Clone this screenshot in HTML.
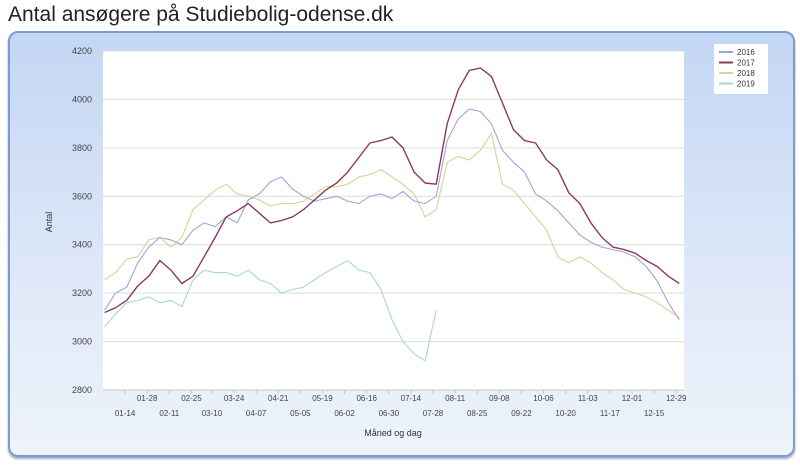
<!DOCTYPE html>
<html><head><meta charset="utf-8"><style>
body{margin:0;width:800px;height:468px;background:#fff;font-family:"Liberation Sans",sans-serif;overflow:hidden}
#title{position:absolute;left:8px;top:3px;font-size:21px;color:#222}
#panel{position:absolute;left:8px;top:31px;width:783px;height:422px;border:2px solid #7d9bcb;border-radius:10px;background:linear-gradient(#c3d6f4,#e4ecf9 70%,#eef3fb);box-shadow:0 2px 2px #9ab}
svg{position:absolute;left:0;top:0}
</style></head><body>
<div id="title">Antal ansøgere på Studiebolig-odense.dk</div>
<div id="panel"></div>
<svg id="chart" width="800" height="468"></svg>
<script>
const seriesNames=["2016","2017","2018","2019"];
const colors=["#a2a2e0","#8c3a5c","#d6d29a","#a6d8d0"];
const v2016=[3130,3200,3225,3325,3390,3430,3420,3400,3460,3490,3475,3515,3490,3585,3610,3660,3680,3630,3600,3580,3590,3600,3580,3570,3600,3610,3590,3620,3580,3570,3600,3830,3920,3960,3950,3900,3790,3740,3700,3610,3580,3540,3490,3440,3410,3390,3380,3370,3350,3310,3250,3160,3090];
const v2017=[3120,3140,3170,3230,3270,3335,3295,3240,3270,3350,3430,3515,3540,3570,3530,3490,3500,3515,3545,3585,3625,3655,3700,3760,3820,3830,3845,3800,3700,3655,3650,3900,4040,4120,4130,4095,3985,3875,3830,3820,3750,3710,3615,3570,3490,3430,3390,3380,3365,3335,3310,3270,3240];
const v2018=[3255,3285,3340,3350,3420,3430,3390,3430,3545,3585,3625,3650,3610,3600,3585,3560,3570,3570,3580,3610,3640,3640,3650,3680,3690,3710,3680,3650,3610,3515,3545,3740,3765,3750,3790,3860,3650,3625,3570,3515,3460,3350,3325,3350,3325,3285,3255,3215,3200,3185,3160,3130,3100];
const v2019=[3060,3115,3160,3170,3185,3160,3170,3145,3255,3295,3285,3285,3270,3295,3255,3240,3200,3215,3225,3255,3285,3310,3335,3295,3285,3215,3090,3000,2950,2920,3130];
const allSeries=[v2016,v2017,v2018,v2019];
const yTicks=[2800,3000,3200,3400,3600,3800,4000,4200];
const xLabels=["01-14","01-28","02-11","02-25","03-10","03-24","04-07","04-21","05-05","05-19","06-02","06-16","06-30","07-14","07-28","08-11","08-25","09-08","09-22","10-06","10-20","11-03","11-17","12-01","12-15","12-29"];
const xLabelDays=[14,28,42,56,69,83,97,111,125,139,153,167,181,195,209,223,237,251,265,279,293,307,321,335,349,363];

const L=103,R=684,T=51,B=390;
const xS=d=>L+d*1.579;
const yS=v=>T+(4200-v)/1400*(B-T);
const NS="http://www.w3.org/2000/svg";
const svg=document.getElementById('chart');
function mk(t,a){const e=document.createElementNS(NS,t);for(const k in a)e.setAttribute(k,a[k]);svg.appendChild(e);return e;}

const bg=mk('rect',{x:L,y:T,width:R-L,height:B-T,fill:'#fff'});


yTicks.forEach(v=>{
  const g=mk('line',{x1:L,x2:R,y1:yS(v),y2:yS(v),stroke:'#dcdcdc','stroke-width':1});
  
  
  const t=mk('text',{x:92,y:yS(v)+3,'text-anchor':'end','font-size':9,fill:'#444'});
  t.textContent=v;
  
  
});
const ax=mk('line',{x1:L,x2:R,y1:B,y2:B,stroke:'#c8c8c8'});


xLabels.forEach((lab,i)=>{
  const x=xS(xLabelDays[i]);
  const row=i%2===0?1:0;
  const tk=mk('line',{x1:x,x2:x,y1:B,y2:B+4,stroke:'#c8c8c8'});
  
  
  const t=mk('text',{x:x,y:row?416:401,'text-anchor':'middle','font-size':8,fill:'#444'});
  t.textContent=lab;
  
  
});
const xt=mk('text',{x:393,y:436,'text-anchor':'middle','font-size':9,fill:'#333'});
xt.textContent='Måned og dag';


const yt=mk('text',{x:52,y:222,'text-anchor':'middle','font-size':9,fill:'#333',transform:'rotate(-90 52 222)'});
yt.textContent='Antal';



[3,2,0,1].forEach(si=>{
  const vals=allSeries[si];
  const pts=vals.map((v,i)=>xS(1+7*i).toFixed(1)+','+yS(v).toFixed(1)).join(' ');
  const p=mk('polyline',{points:pts,fill:'none',stroke:colors[si],'stroke-width':si===1?1.4:1.1,'stroke-linejoin':'round'});
  
  
});

const lg=mk('rect',{x:714,y:44,width:54,height:50,fill:'#fff'});


seriesNames.forEach((n,i)=>{
  const y=52+i*10.5;
  const l=mk('line',{x1:719,x2:733,y1:y,y2:y,stroke:colors[i],'stroke-width':2});
  
  
  const t=mk('text',{x:737,y:y+3,'font-size':8,fill:'#333'});
  t.textContent=n;
  
  
});
</script>
</body></html>
